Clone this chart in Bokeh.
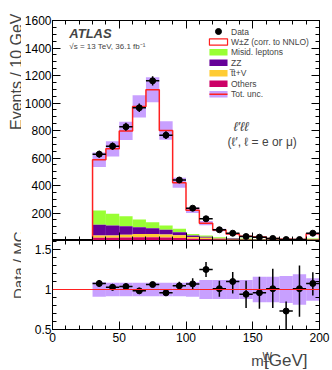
import numpy as np
from bokeh.plotting import figure
from bokeh.layouts import column, row
from bokeh.models import LinearAxis, FixedTicker, Label, Span
from bokeh.embed import file_html
from bokeh.resources import INLINE

# ---------------- data ----------------
edges = list(range(30, 201, 10))
data = [628, 686, 827, 965, 1161, 766, 440, 235, 158, 78, 53, 29, 24, 15, 7, 7, 53]
data_err = [25, 26, 29, 31, 34, 28, 21, 15, 13, 9, 7, 5.4, 4.9, 3.9, 2.6, 2.6, 7.3]
mc_total = [587, 667, 797, 975, 1096, 800, 420, 220, 126, 77, 48, 31, 25, 15, 10, 7, 49]
others = [20, 20, 22, 24, 24, 22, 18, 12, 10, 7, 5, 4, 3, 3, 2, 2, 4]
ttv = [16, 16, 19, 24, 24, 22, 20, 13, 10, 7, 5, 4, 3, 2, 2, 2, 4]
zz = [78, 73, 63, 49, 42, 34, 22, 12, 8, 5, 4, 3, 2, 2, 1, 1, 3]
misid = [104, 85, 73, 56, 43, 32, 25, 10, 8, 5, 4, 3, 2, 2, 1, 1, 3]
unc_rel = [0.09, 0.083, 0.083, 0.083, 0.083, 0.083, 0.085, 0.09, 0.12, 0.12, 0.12, 0.12, 0.16, 0.16, 0.17, 0.19, 0.14]
ratio = [1.075, 1.029, 1.037, 0.983, 1.062, 0.958, 1.046, 1.07, 1.25, 1.01, 1.10, 0.94, 0.96, 1.01, 0.73, 1.01, 1.075]
ratio_up = [0.045, 0.04, 0.037, 0.033, 0.032, 0.035, 0.05, 0.07, 0.095, 0.10, 0.12, 0.17, 0.20, 0.25, 0.12, 0.29, 0.14]
ratio_dn = [0.045, 0.04, 0.037, 0.033, 0.032, 0.035, 0.05, 0.07, 0.095, 0.10, 0.15, 0.17, 0.20, 0.24, 0.24, 0.35, 0.15]

legend_labels = ["Data", "W\u00b1Z (corr. to NNLO)", "Misid. leptons", "ZZ", "t\u0305t+V", "Others", "Tot. unc."]

# colours
C_OTH = "#cc0066"
C_TTV = "#ffcc33"
C_ZZ = "#660099"
C_MIS = "#99ff33"
C_UNC = "#c8a0ff"
C_RED = "#ff2020"
FONT = "Liberation Sans"

left = np.array(edges[:-1], float)
right = np.array(edges[1:], float)
cen = 0.5 * (left + right)
oth = np.array(others, float)
ttv_a = np.array(ttv, float)
zz_a = np.array(zz, float)
mis = np.array(misid, float)
tot = np.array(mc_total, float)
dat = np.array(data, float)
derr = np.array(data_err, float)
urel = np.array(unc_rel, float)

# ---------------- geometry helpers (page pixels) ----------------
STRIP = 21                    # left strip holding the y titles
FL, FR = 49.0, 319.0          # frame left/right
P1T, P1B = 20.0, 240.0        # top panel frame top/bottom
P2T, P2B = 240.0, 329.0       # ratio frame top/bottom
BOT = 19                      # ratio panel bottom border (tick labels)
Y1MAX = 1600.0
Y2MIN = 0.5
Y2MAX = 0.5 + (P2B - P2T) * 0.0125


def d1(px, py):
    return ((px - FL) / (FR - FL) * 200.0, (P1B - py) / (P1B - P1T) * Y1MAX)


def style_axes(p, xt, xminor, yt, yminor, xlabels, overrides_y=None):
    p.xaxis.ticker = FixedTicker(ticks=xt, minor_ticks=xminor)
    p.yaxis.ticker = FixedTicker(ticks=yt, minor_ticks=yminor)
    for ax in p.xaxis + p.yaxis:
        ax.major_tick_in = 8
        ax.major_tick_out = 0
        ax.minor_tick_in = 4
        ax.minor_tick_out = 0
        ax.axis_line_color = "black"
        ax.major_tick_line_color = "black"
        ax.minor_tick_line_color = "black"
        ax.major_label_text_font = FONT
        ax.major_label_text_font_size = "12px"
        ax.major_label_text_color = "black"
        ax.major_label_standoff = 3
    p.yaxis.major_label_standoff = 1
    if not xlabels:
        p.xaxis.major_label_text_font_size = "0px"
        p.xaxis.major_label_standoff = 0
    if overrides_y:
        p.yaxis.major_label_overrides = overrides_y
    # mirrored axes (ticks only)
    for loc, tick, minor in (("right", yt, yminor), ("above", xt, xminor)):
        a = LinearAxis(ticker=FixedTicker(ticks=tick, minor_ticks=minor))
        a.major_tick_in = 8
        a.major_tick_out = 0
        a.minor_tick_in = 4
        a.minor_tick_out = 0
        a.major_label_text_font_size = "0px"
        a.major_label_standoff = 0
        a.axis_line_color = "black"
        p.add_layout(a, loc)
    p.xgrid.visible = False
    p.ygrid.visible = False
    p.outline_line_color = "black"


def text_fig(w, h, xr, yr):
    f = figure(width=w, height=h, x_range=xr, y_range=yr, output_backend="svg", title=None,
               toolbar_location=None, x_axis_location=None, y_axis_location=None,
               min_border=0, min_border_left=0, min_border_right=0, min_border_top=0, min_border_bottom=0,
               background_fill_color="white", border_fill_color="white")
    f.outline_line_color = None
    f.xgrid.visible = False
    f.ygrid.visible = False
    return f


# ---------------- top panel ----------------
W = 332 - STRIP
p1 = figure(width=W, height=240, x_range=(0, 200), y_range=(0, Y1MAX), title=None,
            output_backend="svg", toolbar_location=None,
            min_border_left=int(FL) - STRIP, min_border_right=13, min_border_top=20, min_border_bottom=0,
            background_fill_color="white", border_fill_color="white")

b0 = np.zeros_like(oth)
s1 = oth
s2 = s1 + ttv_a
s3 = s2 + zz_a
s4 = s3 + mis
p1.quad(left=left, right=right, bottom=s4, top=tot, fill_color="white", line_color=None)
p1.quad(left=left, right=right, bottom=s3, top=s4, fill_color=C_MIS, line_color=None)
p1.quad(left=left, right=right, bottom=s2, top=s3, fill_color=C_ZZ, line_color=None)
p1.quad(left=left, right=right, bottom=s1, top=s2, fill_color=C_TTV, line_color=None)
p1.quad(left=left, right=right, bottom=b0, top=s1, fill_color=C_OTH, line_color=None)
# uncertainty band
p1.quad(left=left, right=right, bottom=tot * (1 - urel), top=tot * (1 + urel), fill_color=C_UNC, line_color=None)
# outline of total prediction
sx = [left[0]]
sy = [0.0]
for l, r, t in zip(left, right, tot):
    sx += [l, r]
    sy += [t, t]
sx.append(right[-1])
sy.append(0.0)
p1.line(sx, sy, line_color=C_RED, line_width=1.5)
# data
p1.segment(x0=left, x1=right, y0=dat, y1=dat, line_color="black", line_width=1.5)
p1.segment(x0=cen, x1=cen, y0=dat - derr, y1=dat + derr, line_color="black", line_width=1.5)
p1.scatter(cen, dat, size=6, color="black")

style_axes(p1, [0, 50, 100, 150, 200], list(range(0, 201, 10)),
           list(range(0, 1601, 200)), list(range(0, 1601, 50)), False,
           overrides_y={0: ""})

# texts
x, y = d1(66, 32.5)
p1.add_layout(Label(x=x, y=y, text="ATLAS", text_font=FONT, text_font_style="bold italic",
                    text_font_size="13px", text_baseline="alphabetic"))
x, y = d1(66, 46)
p1.add_layout(Label(x=x, y=y, text="\u221as = 13 TeV, 36.1 fb\u207b\u00b9", text_font=FONT,
                    text_font_size="8px", text_baseline="alphabetic"))
x, y = d1(232, 126)
p1.add_layout(Label(x=x, y=y, text="\u2113\u2032\u2113\u2113", text_font=FONT, text_font_style="italic",
                    text_font_size="13px", text_baseline="alphabetic"))
x, y = d1(226, 141)
p1.add_layout(Label(x=x, y=y, text="(\u2113\u2032, \u2113 = e or \u03bc)", text_font=FONT,
                    text_font_size="12px", text_baseline="alphabetic"))

# legend (manual)
rows = [31.0, 41.5, 51.8, 62.2, 72.7, 83.2, 93.7]
bx0, bx1, bh = 207.7, 226.0, 6.4
fills = [None, "white", C_MIS, C_ZZ, C_TTV, C_OTH, C_UNC]
for i, (lab, ry) in enumerate(zip(legend_labels, rows)):
    tx, ty = d1(229.5, ry)
    p1.add_layout(Label(x=tx, y=ty, text=lab, text_font=FONT, text_font_size="8.5px",
                        text_baseline="middle"))
    xl, yt = d1(bx0, ry - bh / 2)
    xr, yb = d1(bx1, ry + bh / 2)
    if i == 0:
        cx, cy = d1(0.5 * (bx0 + bx1), ry)
        p1.scatter([cx], [cy], size=6, color="black")
    elif i == 1:
        p1.quad(left=[xl], right=[xr], bottom=[yb], top=[yt], fill_color="white", line_color=C_RED, line_width=1.2)
    else:
        p1.quad(left=[xl], right=[xr], bottom=[yb], top=[yt], fill_color=fills[i], line_color=None)
        if i == 6:
            _, ym = d1(bx0, ry)
            p1.line([xl, xr], [ym, ym], line_color=C_RED, line_width=1.5)

# ---------------- ratio panel ----------------
p2 = figure(width=W, height=int(P2B - P2T) + BOT, x_range=(0, 200), y_range=(Y2MIN, Y2MAX), title=None,
            output_backend="svg", toolbar_location=None,
            min_border_left=int(FL) - STRIP, min_border_right=13, min_border_top=0, min_border_bottom=BOT,
            background_fill_color="white", border_fill_color="white")
p2.quad(left=left, right=right, bottom=1 - urel, top=1 + urel, fill_color=C_UNC, line_color=None)
p2.add_layout(Span(location=1.0, dimension="width", line_color=C_RED, line_width=1.2))
rat = np.array(ratio, float)
rup = np.array(ratio_up, float)
rdn = np.array(ratio_dn, float)
p2.segment(x0=left, x1=right, y0=rat, y1=rat, line_color="black", line_width=1.5)
p2.segment(x0=cen, x1=cen, y0=rat - rdn, y1=rat + rup, line_color="black", line_width=1.5)
p2.scatter(cen, rat, size=6, color="black")

style_axes(p2, [0, 50, 100, 150, 200], list(range(0, 201, 10)),
           [0.5, 1.0, 1.5], [round(0.5 + 0.1 * k, 2) for k in range(12)], True,
           overrides_y={0.5: "0.5", 1: "1", 1.5: "1.5"})

# ---------------- x title strip (y measured upward from page bottom) ----------------
H3 = 370 - 240 - (int(P2B - P2T) + BOT)
p3 = text_fig(W, H3, (STRIP, 332), (0, H3))
p3.add_layout(Label(x=318, y=370 - 360, text="[GeV]", text_font=FONT, text_font_size="17px",
                    text_align="right", text_baseline="alphabetic"))
p3.add_layout(Label(x=252.5, y=370 - 360, text="m", text_font=FONT, text_font_size="15px",
                    text_baseline="alphabetic"))
p3.add_layout(Label(x=265.5, y=370 - 355.5, text="W", text_font=FONT, text_font_size="10px",
                    text_baseline="alphabetic"))
p3.add_layout(Label(x=266.5, y=370 - 365, text="T", text_font=FONT, text_font_size="10px",
                    text_baseline="alphabetic"))

# ---------------- y title strip ----------------
s = text_fig(STRIP, 370, (0, STRIP), (0, 370))
s.add_layout(Label(x=16, y=370 - 13, text="Events / 10 GeV", text_font=FONT, text_font_size="16px",
                   angle=np.pi / 2, text_align="right", text_baseline="alphabetic"))
s.add_layout(Label(x=18, y=370 - 231, text="Data / MC", text_font=FONT, text_font_size="15px",
                   angle=np.pi / 2, text_align="right", text_baseline="alphabetic"))

layout = row(s, column(p1, p2, p3))
open("out.html", "w").write(file_html(layout, INLINE))
